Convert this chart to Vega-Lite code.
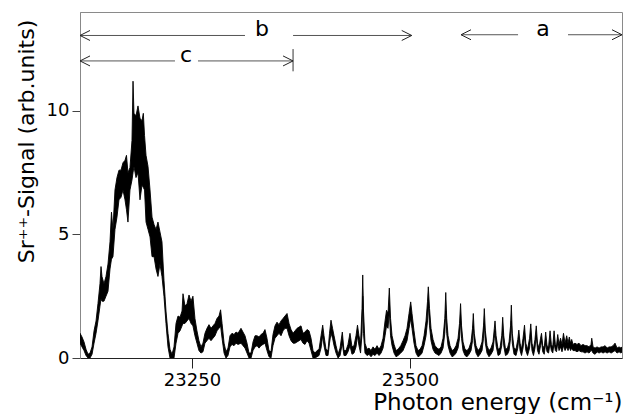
{
  "$schema": "https://vega.github.io/schema/vega-lite/v6.json",
  "width": 542,
  "height": 346,
  "autosize": {"type": "none"},
  "padding": {"left": 80, "top": 12, "right": 5, "bottom": 56},
  "background": "white",
  "config": {
    "font": "DejaVu Sans",
    "view": {"stroke": "#8a8a8a", "strokeWidth": 1}
  },
  "datasets": {
    "spec": [
      {"e":23121.6,"lo":0.6,"hi":1.0},{"e":23123.9,"lo":0.45,"hi":0.85},{"e":23126.2,"lo":0.3,"hi":0.65},{"e":23128.5,"lo":0.1,"hi":0.35},{"e":23130.8,"lo":0.0,"hi":0.15},{"e":23133.1,"lo":0.0,"hi":0.2},{"e":23135.4,"lo":0.15,"hi":0.45},{"e":23137.7,"lo":0.6,"hi":1.1},{"e":23140.0,"lo":1.0,"hi":1.5},{"e":23142.2,"lo":1.5,"hi":2.2},{"e":23144.5,"lo":2.1,"hi":3.0},{"e":23145.7,"lo":2.4,"hi":3.7},{"e":23146.8,"lo":2.3,"hi":3.3},{"e":23149.1,"lo":2.3,"hi":3.0},{"e":23151.4,"lo":2.5,"hi":3.3},{"e":23153.7,"lo":2.7,"hi":3.8},{"e":23156.0,"lo":3.6,"hi":4.7},{"e":23157.7,"lo":4.0,"hi":5.9},{"e":23159.4,"lo":4.1,"hi":5.2},{"e":23161.7,"lo":5.2,"hi":6.8},{"e":23164.0,"lo":5.7,"hi":7.3},{"e":23166.3,"lo":6.4,"hi":7.6},{"e":23168.6,"lo":6.5,"hi":7.6},{"e":23170.9,"lo":6.8,"hi":7.9},{"e":23173.2,"lo":6.4,"hi":8.0},{"e":23174.9,"lo":6.0,"hi":8.2},{"e":23176.6,"lo":5.5,"hi":7.5},{"e":23178.9,"lo":6.8,"hi":7.7},{"e":23181.2,"lo":7.2,"hi":8.8},{"e":23182.4,"lo":7.5,"hi":11.2},{"e":23183.5,"lo":7.75,"hi":9.9},{"e":23185.8,"lo":7.3,"hi":9.8},{"e":23188.1,"lo":7.5,"hi":10.2},{"e":23190.4,"lo":6.4,"hi":9.7},{"e":23192.7,"lo":7.0,"hi":9.6},{"e":23194.2,"lo":6.9,"hi":9.9},{"e":23195.6,"lo":6.8,"hi":9.0},{"e":23197.3,"lo":5.5,"hi":8.2},{"e":23199.6,"lo":5.2,"hi":7.75},{"e":23201.9,"lo":4.9,"hi":6.8},{"e":23204.2,"lo":4.1,"hi":5.7},{"e":23206.5,"lo":4.1,"hi":5.4},{"e":23208.8,"lo":3.6,"hi":5.2},{"e":23211.0,"lo":3.3,"hi":5.5},{"e":23213.3,"lo":3.8,"hi":5.1},{"e":23215.6,"lo":3.3,"hi":4.7},{"e":23217.9,"lo":2.5,"hi":3.15},{"e":23220.2,"lo":1.4,"hi":1.9},{"e":23222.5,"lo":0.45,"hi":1.0},{"e":23224.8,"lo":0.0,"hi":0.35},{"e":23227.1,"lo":0.0,"hi":0.15},{"e":23229.4,"lo":0.0,"hi":0.45},{"e":23231.7,"lo":0.6,"hi":1.4},{"e":23234.0,"lo":1.0,"hi":1.7},
      {"e":23236.3,"lo":1.1,"hi":1.65},{"e":23238.6,"lo":1.3,"hi":1.9},{"e":23239.7,"lo":1.4,"hi":2.6},{"e":23242.0,"lo":1.4,"hi":2.1},{"e":23244.3,"lo":1.5,"hi":2.2},{"e":23246.6,"lo":1.6,"hi":2.55},{"e":23248.9,"lo":1.4,"hi":2.3},{"e":23251.1,"lo":1.3,"hi":2.5},{"e":23253.4,"lo":0.9,"hi":1.6},{"e":23255.7,"lo":0.6,"hi":1.1},{"e":23258.0,"lo":0.3,"hi":0.7},{"e":23260.3,"lo":0.2,"hi":0.45},{"e":23262.6,"lo":0.25,"hi":0.6},{"e":23264.9,"lo":0.6,"hi":1.0},{"e":23267.2,"lo":0.7,"hi":1.2},{"e":23269.5,"lo":0.8,"hi":1.35},{"e":23271.8,"lo":0.7,"hi":1.2},{"e":23274.1,"lo":0.8,"hi":1.3},{"e":23276.4,"lo":0.9,"hi":1.4},{"e":23278.7,"lo":1.1,"hi":1.6},{"e":23281.0,"lo":1.2,"hi":1.7},{"e":23282.8,"lo":1.3,"hi":1.95},{"e":23284.5,"lo":0.8,"hi":1.4},{"e":23286.8,"lo":0.2,"hi":0.6},{"e":23289.0,"lo":0.0,"hi":0.25},{"e":23291.3,"lo":0.1,"hi":0.4},{"e":23293.6,"lo":0.45,"hi":0.9},{"e":23295.9,"lo":0.55,"hi":1.0},{"e":23298.2,"lo":0.5,"hi":0.95},{"e":23300.5,"lo":0.6,"hi":1.05},{"e":23302.8,"lo":0.55,"hi":1.0},{"e":23306.2,"lo":0.6,"hi":1.2},{"e":23308.5,"lo":0.5,"hi":1.05},{"e":23310.8,"lo":0.4,"hi":0.9},{"e":23313.1,"lo":0.2,"hi":0.6},{"e":23315.4,"lo":0.0,"hi":0.2},{"e":23317.7,"lo":0.0,"hi":0.2},{"e":23320.0,"lo":0.3,"hi":0.65},{"e":23322.3,"lo":0.45,"hi":0.9},{"e":23324.6,"lo":0.5,"hi":0.9},{"e":23326.9,"lo":0.4,"hi":0.85},{"e":23329.1,"lo":0.5,"hi":0.95},{"e":23331.4,"lo":0.55,"hi":1.0},{"e":23333.7,"lo":0.6,"hi":1.15},{"e":23336.0,"lo":0.3,"hi":0.8},{"e":23338.3,"lo":0.05,"hi":0.3},{"e":23340.6,"lo":0.0,"hi":0.25},{"e":23342.9,"lo":0.5,"hi":0.95},{"e":23345.2,"lo":0.8,"hi":1.3},{"e":23347.5,"lo":0.9,"hi":1.45},{"e":23349.8,"lo":1.0,"hi":1.35},{"e":23352.1,"lo":0.9,"hi":1.5},{"e":23354.4,"lo":1.1,"hi":1.6},{"e":23356.7,"lo":1.2,"hi":1.7},{"e":23359.0,"lo":1.2,"hi":1.8},{"e":23361.3,"lo":0.9,"hi":1.4},{"e":23363.6,"lo":0.7,"hi":1.15},{"e":23365.9,"lo":0.6,"hi":1.0},{"e":23368.2,"lo":0.6,"hi":1.1},{"e":23370.5,"lo":0.65,"hi":1.2},{"e":23372.8,"lo":0.7,"hi":1.25},{"e":23375.0,"lo":0.75,"hi":1.3},{"e":23377.3,"lo":0.6,"hi":1.0},{"e":23379.6,"lo":0.55,"hi":1.05},{"e":23381.9,"lo":0.7,"hi":1.15},{"e":23384.2,"lo":0.6,"hi":1.1},{"e":23386.5,"lo":0.3,"hi":0.8},{"e":23388.8,"lo":0.0,"hi":0.3},
      {"e":23391.1,"lo":0.0,"hi":0.2},{"e":23393.4,"lo":0.05,"hi":0.3},{"e":23395.7,"lo":0.1,"hi":0.35},{"e":23398.0,"lo":0.4,"hi":0.9},{"e":23399.9,"lo":0.9,"hi":1.33},{"e":23401.4,"lo":0.5,"hi":0.9},{"e":23403.7,"lo":0.1,"hi":0.35},{"e":23406.0,"lo":0.1,"hi":0.3},{"e":23407.7,"lo":0.6,"hi":1.0},{"e":23409.4,"lo":1.0,"hi":1.53},{"e":23411.2,"lo":0.8,"hi":1.2},{"e":23412.9,"lo":0.5,"hi":0.9},{"e":23415.2,"lo":0.2,"hi":0.5},{"e":23417.5,"lo":0.0,"hi":0.15},{"e":23419.8,"lo":0.1,"hi":0.4},{"e":23422.4,"lo":0.6,"hi":1.05},{"e":23424.3,"lo":0.1,"hi":0.3},{"e":23426.6,"lo":0.1,"hi":0.3},{"e":23428.9,"lo":0.25,"hi":0.55},{"e":23431.2,"lo":0.5,"hi":1.0},{"e":23433.5,"lo":0.15,"hi":0.45},{"e":23435.8,"lo":0.2,"hi":0.5},{"e":23438.1,"lo":0.45,"hi":0.9},{"e":23439.8,"lo":0.9,"hi":1.33},{"e":23441.5,"lo":0.5,"hi":0.9},{"e":23443.3,"lo":0.2,"hi":0.6},{"e":23445.0,"lo":1.0,"hi":2.0},{"e":23445.8,"lo":2.5,"hi":3.36},{"e":23446.7,"lo":1.0,"hi":1.9},{"e":23448.4,"lo":0.2,"hi":0.6},{"e":23450.7,"lo":0.1,"hi":0.35},{"e":23453.0,"lo":0.15,"hi":0.4},{"e":23455.3,"lo":0.05,"hi":0.3},{"e":23457.6,"lo":0.15,"hi":0.45},{"e":23459.9,"lo":0.1,"hi":0.35},{"e":23462.2,"lo":0.2,"hi":0.5},{"e":23464.5,"lo":0.1,"hi":0.35},{"e":23466.8,"lo":0.2,"hi":0.5},{"e":23469.1,"lo":0.4,"hi":0.8},{"e":23471.4,"lo":0.9,"hi":1.5},{"e":23473.1,"lo":1.3,"hi":1.93},{"e":23474.8,"lo":1.2,"hi":1.8},{"e":23476.3,"lo":1.9,"hi":2.83},{"e":23477.7,"lo":0.9,"hi":1.6},{"e":23479.4,"lo":0.5,"hi":0.9},{"e":23481.7,"lo":0.2,"hi":0.55},{"e":23484.0,"lo":0.05,"hi":0.3},{"e":23486.3,"lo":0.1,"hi":0.35},{"e":23489.4,"lo":0.2,"hi":0.5},{"e":23492.0,"lo":0.3,"hi":0.7},{"e":23494.3,"lo":0.5,"hi":0.9},{"e":23496.6,"lo":0.7,"hi":1.2},{"e":23498.9,"lo":1.2,"hi":1.8},{"e":23500.8,"lo":1.6,"hi":2.27},{"e":23502.3,"lo":1.2,"hi":1.8},{"e":23504.6,"lo":0.6,"hi":1.1},{"e":23506.9,"lo":0.2,"hi":0.5},{"e":23509.2,"lo":0.05,"hi":0.3},{"e":23511.5,"lo":0.1,"hi":0.35},
      {"e":23513.8,"lo":0.2,"hi":0.5},{"e":23516.1,"lo":0.5,"hi":0.9},{"e":23518.4,"lo":0.9,"hi":1.5},{"e":23520.1,"lo":1.5,"hi":2.3},{"e":23521.0,"lo":2.2,"hi":2.88},{"e":23522.4,"lo":1.3,"hi":2.0},{"e":23524.1,"lo":0.7,"hi":1.2},{"e":23526.4,"lo":0.35,"hi":0.75},{"e":23528.7,"lo":0.2,"hi":0.5},{"e":23531.0,"lo":0.15,"hi":0.4},{"e":23533.3,"lo":0.1,"hi":0.35},{"e":23535.6,"lo":0.2,"hi":0.45},{"e":23537.9,"lo":0.4,"hi":0.8},{"e":23539.9,"lo":1.0,"hi":1.6},{"e":23541.0,"lo":1.9,"hi":2.65},{"e":23542.1,"lo":1.0,"hi":1.6},{"e":23543.6,"lo":0.5,"hi":0.9},{"e":23545.9,"lo":0.2,"hi":0.5},{"e":23548.2,"lo":0.05,"hi":0.3},{"e":23550.5,"lo":0.1,"hi":0.35},{"e":23552.8,"lo":0.2,"hi":0.5},{"e":23555.1,"lo":0.4,"hi":0.8},{"e":23556.8,"lo":0.8,"hi":1.4},{"e":23558.0,"lo":1.5,"hi":2.2},{"e":23559.1,"lo":0.8,"hi":1.3},{"e":23560.8,"lo":0.3,"hi":0.65},{"e":23563.1,"lo":0.1,"hi":0.35},{"e":23565.4,"lo":0.05,"hi":0.3},{"e":23567.7,"lo":0.15,"hi":0.4},{"e":23570.0,"lo":0.3,"hi":0.65},{"e":23571.7,"lo":0.7,"hi":1.2},{"e":23572.6,"lo":1.3,"hi":1.8},{"e":23573.7,"lo":0.6,"hi":1.0},{"e":23575.7,"lo":0.2,"hi":0.5},{"e":23578.0,"lo":0.05,"hi":0.3},{"e":23580.3,"lo":0.15,"hi":0.4},{"e":23582.6,"lo":0.3,"hi":0.65},{"e":23584.3,"lo":0.8,"hi":1.3},{"e":23585.2,"lo":1.4,"hi":2.0},{"e":23586.4,"lo":0.6,"hi":1.1},{"e":23588.3,"lo":0.2,"hi":0.5},{"e":23590.6,"lo":0.05,"hi":0.3},{"e":23592.9,"lo":0.15,"hi":0.4},{"e":23595.2,"lo":0.3,"hi":0.65},{"e":23596.7,"lo":0.8,"hi":1.2},{"e":23597.5,"lo":1.1,"hi":1.5},{"e":23598.7,"lo":0.5,"hi":0.9},{"e":23601.0,"lo":0.1,"hi":0.35},{"e":23603.2,"lo":0.15,"hi":0.4},{"e":23605.2,"lo":0.5,"hi":0.9},{"e":23606.3,"lo":1.1,"hi":1.65},{"e":23607.5,"lo":0.5,"hi":0.9},{"e":23609.5,"lo":0.1,"hi":0.35},{"e":23611.8,"lo":0.15,"hi":0.4},{"e":23613.6,"lo":0.3,"hi":0.65},{"e":23615.3,"lo":0.8,"hi":1.3},{"e":23616.2,"lo":1.5,"hi":2.14},{"e":23617.3,"lo":0.6,"hi":1.0},{"e":23619.3,"lo":0.15,"hi":0.4},{"e":23621.6,"lo":0.1,"hi":0.35},{"e":23623.6,"lo":0.4,"hi":0.75},{"e":23624.8,"lo":0.8,"hi":1.13},{"e":23626.2,"lo":0.3,"hi":0.6},{"e":23627.9,"lo":0.1,"hi":0.35},{"e":23629.6,"lo":0.4,"hi":0.8},{"e":23631.3,"lo":0.9,"hi":1.33},{"e":23632.8,"lo":0.3,"hi":0.6},{"e":23634.8,"lo":0.1,"hi":0.35},{"e":23637.1,"lo":0.4,"hi":0.8},{"e":23638.5,"lo":0.9,"hi":1.38},{"e":23639.9,"lo":0.3,"hi":0.6},{"e":23641.6,"lo":0.1,"hi":0.35},{"e":23643.3,"lo":0.4,"hi":0.75},{"e":23644.8,"lo":0.9,"hi":1.3},{"e":23646.2,"lo":0.3,"hi":0.6},{"e":23647.9,"lo":0.15,"hi":0.4},{"e":23649.7,"lo":0.5,"hi":0.8},{"e":23650.8,"lo":0.7,"hi":1.0},{"e":23652.2,"lo":0.25,"hi":0.5},{"e":23653.9,"lo":0.15,"hi":0.4},{"e":23655.6,"lo":0.6,"hi":1.05},{"e":23657.1,"lo":0.25,"hi":0.5},{"e":23658.9,"lo":0.2,"hi":0.45},{"e":23660.6,"lo":0.6,"hi":1.1},{"e":23662.1,"lo":0.3,"hi":0.55},{"e":23663.7,"lo":0.2,"hi":0.45},{"e":23665.2,"lo":0.6,"hi":1.1},{"e":23666.7,"lo":0.3,"hi":0.55},{"e":23668.0,"lo":0.25,"hi":0.5},{"e":23669.4,"lo":0.6,"hi":0.95},{"e":23670.9,"lo":0.3,"hi":0.55},{"e":23672.6,"lo":0.45,"hi":0.8},{"e":23674.3,"lo":0.25,"hi":0.55},{"e":23676.0,"lo":0.5,"hi":1.0},{"e":23677.8,"lo":0.3,"hi":0.6},{"e":23679.7,"lo":0.45,"hi":0.9},{"e":23681.2,"lo":0.3,"hi":0.6},{"e":23682.7,"lo":0.45,"hi":0.85},{"e":23684.1,"lo":0.3,"hi":0.6},{"e":23685.4,"lo":0.4,"hi":0.75},{"e":23686.9,"lo":0.3,"hi":0.55},{"e":23689.2,"lo":0.3,"hi":0.6},{"e":23691.5,"lo":0.25,"hi":0.55},{"e":23693.8,"lo":0.3,"hi":0.6},{"e":23696.1,"lo":0.25,"hi":0.5},{"e":23698.4,"lo":0.25,"hi":0.55},{"e":23700.7,"lo":0.2,"hi":0.5},{"e":23703.0,"lo":0.25,"hi":0.5},{"e":23705.3,"lo":0.2,"hi":0.45},{"e":23707.6,"lo":0.3,"hi":0.55},{"e":23708.4,"lo":0.3,"hi":0.8},{"e":23709.9,"lo":0.2,"hi":0.45},{"e":23712.2,"lo":0.15,"hi":0.4},{"e":23714.5,"lo":0.25,"hi":0.45},{"e":23716.8,"lo":0.2,"hi":0.4},{"e":23719.1,"lo":0.25,"hi":0.45},{"e":23721.4,"lo":0.2,"hi":0.45},{"e":23723.7,"lo":0.25,"hi":0.5},{"e":23726.0,"lo":0.2,"hi":0.4},{"e":23728.3,"lo":0.25,"hi":0.45},{"e":23730.6,"lo":0.2,"hi":0.45},{"e":23732.9,"lo":0.25,"hi":0.5},{"e":23735.1,"lo":0.3,"hi":0.6},{"e":23737.4,"lo":0.2,"hi":0.4},{"e":23739.7,"lo":0.25,"hi":0.45},{"e":23742.0,"lo":0.2,"hi":0.4},{"e":23743.1,"lo":0.25,"hi":0.45}
    ],
    "segs": [
      {"x1":23121.6,"x2":23310.8,"y":13.05},{"x1":23365.9,"x2":23502.0,"y":13.05},
      {"x1":23121.6,"x2":23230.5,"y":12.02},{"x1":23256.9,"x2":23365.9,"y":12.02},
      {"x1":23558.5,"x2":23623.9,"y":13.08},{"x1":23681.2,"x2":23743.1,"y":13.08}
    ],
    "heads": [
      {"x":23121.6,"y":13.05,"dir":"left"},{"x":23502.0,"y":13.05,"dir":"right"},
      {"x":23121.6,"y":12.02,"dir":"left"},{"x":23365.9,"y":12.02,"dir":"right"},
      {"x":23558.5,"y":13.08,"dir":"left"},{"x":23743.1,"y":13.08,"dir":"right"}
    ],
    "labels": [
      {"x":23330.3,"y":13.05,"t":"b"},{"x":23243.2,"y":12.02,"t":"c"},{"x":23652.6,"y":13.08,"t":"a"}
    ],
    "bars": [
      {"x":23365.9,"y1":11.6,"y2":12.5}
    ]
  },
  "layer": [
    {
      "data": {"name": "spec"},
      "mark": {"type": "area", "color": "black", "fill": "black", "stroke": "black", "strokeWidth": 0.9, "clip": true},
      "encoding": {
        "x": {"field": "e", "type": "quantitative",
              "scale": {"domain": [23121.6, 23743.1], "nice": false, "zero": false},
              "axis": {"values": [23250, 23500], "format": "d", "grid": false,
                       "tickSize": 10, "tickColor": "#222", "domainColor": "#222",
                       "labelFontSize": 18, "labelColor": "black", "labelPadding": 3,
                       "title": "Photon energy (cm⁻¹)", "titleFontSize": 23, "titleFontWeight": "normal",
                       "titleColor": "black", "titleAnchor": "end", "titleAlign": "right",
                       "titleX": 542, "titleY": 51, "titleBaseline": "alphabetic"}},
        "y": {"field": "lo", "type": "quantitative",
              "scale": {"domain": [0, 14], "nice": false},
              "axis": {"values": [0, 5, 10], "grid": false, "tickSize": 8,
                       "tickColor": "#444", "domainColor": "#888",
                       "labelFontSize": 18, "labelColor": "black", "labelPadding": 3,
                       "title": "Sr⁺⁺-Signal (arb.units)", "titleFontSize": 22, "titleFontWeight": "normal",
                       "titleColor": "black", "titleAngle": 270, "titleAlign": "center",
                       "titleBaseline": "middle", "titleX": -54, "titleY": 129}},
        "y2": {"field": "hi"}
      }
    },
    {
      "data": {"name": "segs"},
      "mark": {"type": "rule", "color": "#555", "strokeWidth": 1},
      "encoding": {
        "x": {"field": "x1", "type": "quantitative"},
        "x2": {"field": "x2"},
        "y": {"field": "y", "type": "quantitative"}
      }
    },
    {
      "data": {"name": "bars"},
      "mark": {"type": "rule", "color": "#333", "strokeWidth": 1},
      "encoding": {
        "x": {"field": "x", "type": "quantitative"},
        "y": {"field": "y1", "type": "quantitative"},
        "y2": {"field": "y2"}
      }
    },
    {
      "data": {"name": "heads"},
      "mark": {"type": "point", "filled": false, "stroke": "#222", "strokeWidth": 1, "size": 100, "opacity": 1},
      "encoding": {
        "x": {"field": "x", "type": "quantitative"},
        "y": {"field": "y", "type": "quantitative"},
        "shape": {"field": "dir", "type": "nominal",
                  "scale": {"domain": ["left", "right"], "range": ["M2,-1L0,0L2,1", "M-2,-1L0,0L-2,1"]},
                  "legend": null}
      }
    },
    {
      "data": {"name": "labels"},
      "mark": {"type": "text", "fontSize": 22, "baseline": "alphabetic", "align": "center", "color": "black", "dy": 1},
      "encoding": {
        "x": {"field": "x", "type": "quantitative"},
        "y": {"field": "y", "type": "quantitative"},
        "text": {"field": "t"}
      }
    }
  ]
}
